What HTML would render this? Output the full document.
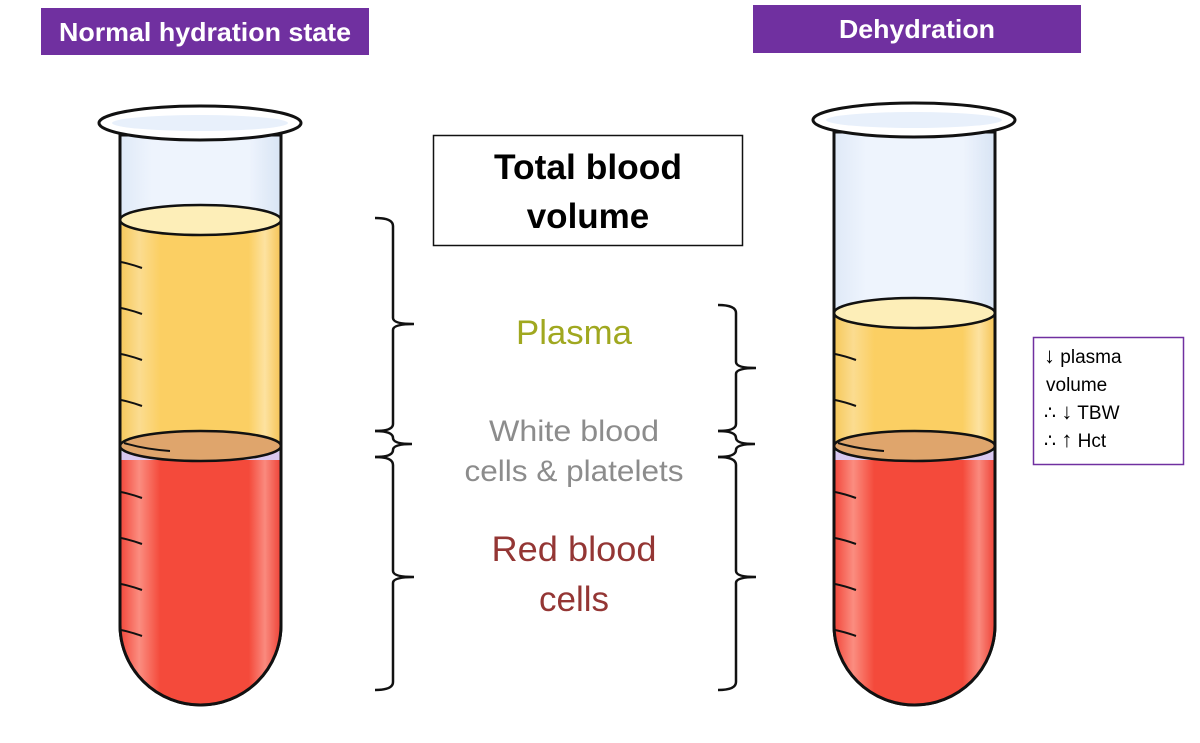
<!DOCTYPE html>
<html><head><meta charset="utf-8"><style>
html,body{margin:0;padding:0;background:#fff}
body{width:1200px;height:738px;overflow:hidden;font-family:"Liberation Sans",sans-serif}
</style></head><body>
<svg width="1200" height="738" viewBox="0 0 1200 738" xmlns="http://www.w3.org/2000/svg">
<defs>
<linearGradient id="gl" x1="0" x2="1"><stop offset="0" stop-color="#dfe9f7"/><stop offset="0.2" stop-color="#eef4fd"/><stop offset="0.8" stop-color="#eef4fd"/><stop offset="1" stop-color="#d8e4f4"/></linearGradient>
<linearGradient id="pl" x1="0" x2="1"><stop offset="0" stop-color="#f6c85a"/><stop offset="0.12" stop-color="#fbdc90"/><stop offset="0.25" stop-color="#fbcf63"/><stop offset="0.8" stop-color="#fbcf63"/><stop offset="0.9" stop-color="#fde2a0"/><stop offset="1" stop-color="#f5c455"/></linearGradient>
<linearGradient id="rd" x1="0" x2="1"><stop offset="0" stop-color="#f2473a"/><stop offset="0.12" stop-color="#fb8d80"/><stop offset="0.25" stop-color="#f44a3b"/><stop offset="0.8" stop-color="#f44a3b"/><stop offset="0.9" stop-color="#fa8a7e"/><stop offset="1" stop-color="#ee4236"/></linearGradient>
</defs>
<rect x="41" y="8" width="328" height="47" fill="#7030a0"/>
<text x="205" y="41" text-anchor="middle" font-size="26" font-weight="bold" fill="#fff" textLength="292" lengthAdjust="spacingAndGlyphs">Normal hydration state</text>
<rect x="753" y="5" width="328" height="48" fill="#7030a0"/>
<text x="917" y="38" text-anchor="middle" font-size="26" font-weight="bold" fill="#fff" textLength="156" lengthAdjust="spacingAndGlyphs">Dehydration</text>

<g stroke="#111" stroke-width="3">
<path d="M120 135 L120 625 A80.5 80 0 0 0 281 625 L281 135 Z" fill="url(#gl)"/>
<path d="M120 220 L120 446 L281 446 L281 220 Z" fill="url(#pl)" stroke="none"/>
<ellipse cx="200.5" cy="220" rx="80.5" ry="15" fill="#fdeeb8" stroke-width="2.5"/>
<path d="M120 458 L120 625 A80.5 80 0 0 0 281 625 L281 458 Z" fill="url(#rd)" stroke="none"/>
<rect x="121" y="452" width="159" height="8" fill="#d9c8f0" stroke="none"/>
<ellipse cx="200.5" cy="446" rx="80.5" ry="15" fill="#dfa56c" stroke-width="2.5"/>
<path d="M120 135 L120 625 A80.5 80 0 0 0 281 625 L281 135" fill="none"/>
<g fill="none" stroke-width="2"><path d="M121 262 q10 2 21 6"/><path d="M121 308 q10 2 21 6"/><path d="M121 354 q10 2 21 6"/><path d="M121 400 q10 2 21 6"/><path d="M124 443 q20 6 46 8"/><path d="M121 492 q10 2 21 6"/><path d="M121 538 q10 2 21 6"/><path d="M121 584 q10 2 21 6"/><path d="M121 630 q10 2 21 6"/></g>
<ellipse cx="200" cy="123" rx="101" ry="17" fill="#fff"/>
<ellipse cx="200" cy="123" rx="88" ry="8" fill="#e8f0fb" stroke="none"/>
</g>

<g stroke="#111" stroke-width="3">
<path d="M834 132 L834 625 A80.5 80 0 0 0 995 625 L995 132 Z" fill="url(#gl)"/>
<path d="M834 313 L834 446 L995 446 L995 313 Z" fill="url(#pl)" stroke="none"/>
<ellipse cx="914.5" cy="313" rx="80.5" ry="15" fill="#fdeeb8" stroke-width="2.5"/>
<path d="M834 458 L834 625 A80.5 80 0 0 0 995 625 L995 458 Z" fill="url(#rd)" stroke="none"/>
<rect x="835" y="452" width="159" height="8" fill="#d9c8f0" stroke="none"/>
<ellipse cx="914.5" cy="446" rx="80.5" ry="15" fill="#dfa56c" stroke-width="2.5"/>
<path d="M834 132 L834 625 A80.5 80 0 0 0 995 625 L995 132" fill="none"/>
<g fill="none" stroke-width="2"><path d="M835 354 q10 2 21 6"/><path d="M835 400 q10 2 21 6"/><path d="M838 443 q20 6 46 8"/><path d="M835 492 q10 2 21 6"/><path d="M835 538 q10 2 21 6"/><path d="M835 584 q10 2 21 6"/><path d="M835 630 q10 2 21 6"/></g>
<ellipse cx="914" cy="120" rx="101" ry="17" fill="#fff"/>
<ellipse cx="914" cy="120" rx="88" ry="8" fill="#e8f0fb" stroke="none"/>
</g>

<g fill="none" stroke="#111" stroke-width="2.5">
<path d="M375 218 Q393 218 393 226 L393 318 Q393 324 414 324 Q393 324 393 330 L393 424 Q393 431 375 431"/>
<path d="M375 431 Q393 431 393 438 Q393 444 412 444 Q393 444 393 450 Q393 457 375 457"/>
<path d="M375 457 Q393 457 393 465 L393 571 Q393 577 414 577 Q393 577 393 583 L393 682 Q393 690 375 690"/>
<path d="M718 305 Q736 305 736 313 L736 362 Q736 368 756 368 Q736 368 736 374 L736 424 Q736 431 718 431"/>
<path d="M718 431 Q736 431 736 438 Q736 444 755 444 Q736 444 736 450 Q736 457 718 457"/>
<path d="M718 457 Q736 457 736 465 L736 571 Q736 577 756 577 Q736 577 736 583 L736 682 Q736 690 718 690"/>
</g>

<rect x="433.5" y="135.5" width="309" height="110" fill="#fff" stroke="#111" stroke-width="1.5"/>
<text x="588" y="179" text-anchor="middle" font-size="35" font-weight="bold" fill="#000" textLength="188" lengthAdjust="spacingAndGlyphs">Total blood</text>
<text x="588" y="228" text-anchor="middle" font-size="35" font-weight="bold" fill="#000">volume</text>

<text x="574" y="344" text-anchor="middle" font-size="34" fill="#a0a820" textLength="116" lengthAdjust="spacingAndGlyphs">Plasma</text>
<text x="574" y="441" text-anchor="middle" font-size="30" fill="#8c8c8c" textLength="170" lengthAdjust="spacingAndGlyphs">White blood</text>
<text x="574" y="481" text-anchor="middle" font-size="30" fill="#8c8c8c" textLength="219" lengthAdjust="spacingAndGlyphs">cells &amp; platelets</text>
<text x="574" y="561" text-anchor="middle" font-size="35" fill="#943634" textLength="165" lengthAdjust="spacingAndGlyphs">Red blood</text>
<text x="574" y="611" text-anchor="middle" font-size="35" fill="#943634">cells</text>

<rect x="1033.5" y="337.5" width="150" height="127" fill="#fff" stroke="#7030a0" stroke-width="1.5"/>
<g font-size="19" fill="#000" font-family="'Liberation Sans','DejaVu Sans',sans-serif">
<text x="1044" y="363"><tspan font-size="22">↓</tspan> plasma</text>
<text x="1046" y="391">volume</text>
<text x="1044" y="419">∴ <tspan font-size="22">↓</tspan> TBW</text>
<text x="1044" y="447">∴ <tspan font-size="22">↑</tspan> Hct</text>
</g>
</svg>
</body></html>
